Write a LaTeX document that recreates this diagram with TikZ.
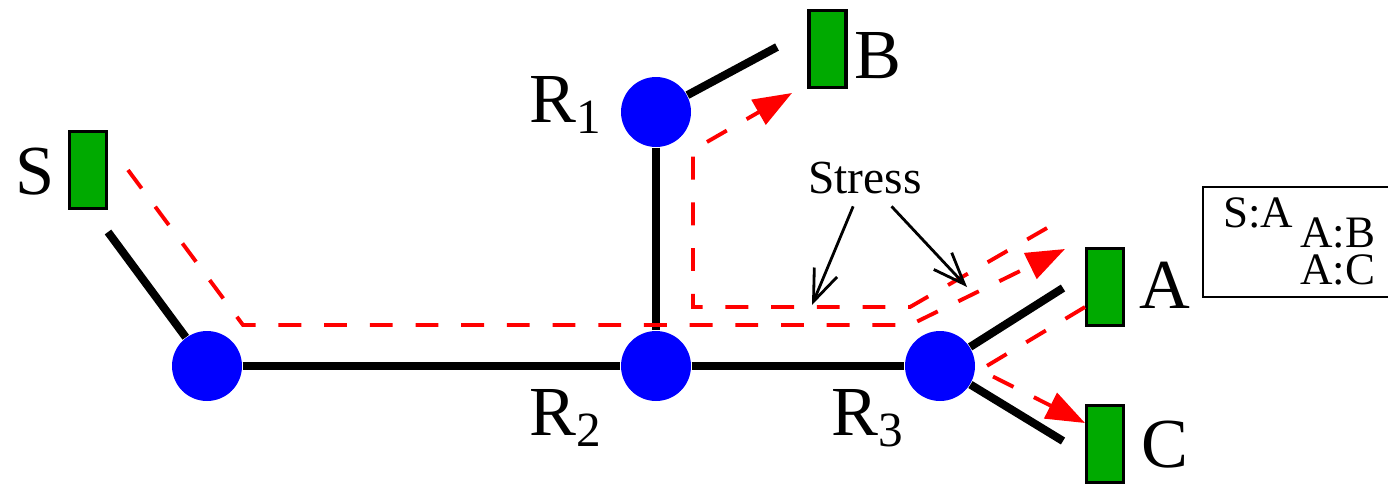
\documentclass[tikz,border=0pt]{standalone}
\usepackage{fontspec}
\setmainfont{Liberation Serif}
\usetikzlibrary{arrows.meta}
\definecolor{hostgreen}{RGB}{0,170,0}
\tikzset{
    router/.style={circle, fill=blue, minimum size=0.70cm, inner sep=0pt},
    host/.style={draw, fill=hostgreen, line width=1pt, minimum width=0.37cm, minimum height=0.77cm, inner sep=0pt},
    link/.style={line width=2.3pt},
    flow/.style={draw=red, line width=1.1pt, dash pattern=on 6.5pt off 6.5pt, -{Triangle[length=11pt,width=8pt]}},
    lbl/.style={font=\fontsize{20}{24}\selectfont, inner sep=0pt},
    note/.style={font=\fontsize{13.5}{16}\selectfont},
    key/.style={font=\fontsize{12.8}{14}\selectfont, inner sep=0pt},
    pointer/.style={-{Straight Barb[length=9pt,width=7pt]}, line width=0.8pt},
  }

\begin{document}
\begin{tikzpicture}
    \useasboundingbox (0,0) rectangle (13.88,4.84);
    % routers and hosts
    \node[router] (rl) at (2.07,1.18) {};
    \node[router] (r2) at (6.56,1.18) {};
    \node[router] (r3) at (9.40,1.18) {};
    \node[router] (r1) at (6.56,3.72) {};
    \node[host] (hs) at (0.88,3.14) {};
    \node[host] (hb) at (8.275,4.35) {};
    \node[host] (ha) at (11.05,1.97) {};
    \node[host] (hc) at (11.05,0.40) {};
    \node[lbl] (ls) at (0.35,3.12) {S};
    \node[lbl] (lb) at (8.78,4.28) {B};
    \node[lbl] (la) at (11.65,1.99) {A};
    \node[lbl] (lc) at (11.65,0.39) {C};
    \node[lbl] (lr1) at (5.66,3.79) {R\textsubscript{1}};
    \node[lbl] (lr2) at (5.66,0.66) {R\textsubscript{2}};
    \node[lbl] (lr3) at (8.68,0.66) {R\textsubscript{3}};
    % links
    \coordinate (es) at (1.08,2.52);
    \coordinate (eb) at (7.77,4.37);
    \coordinate (ea) at (10.63,1.96);
    \coordinate (ec) at (10.63,0.43);
    \draw[link] (rl) -- (es);
    \draw[link] (rl) -- (r2) -- (r3);
    \draw[link] (r1) -- (r2);
    \draw[link] (r1) -- (eb);
    \draw[link] (r3) -- (ea);
    \draw[link] (r3) -- (ec);
    % flows
    \coordinate (sa0) at (1.28,3.14);
    \coordinate (sa1) at (2.43,1.59);
    \coordinate (sa2) at (9.10,1.59);
    \coordinate (sa3) at (10.65,2.35);
    \coordinate (ab0) at (10.47,2.56);
    \coordinate (ab1) at (9.10,1.77);
    \coordinate (ab2) at (6.93,1.77);
    \coordinate (ab3) at (6.93,3.34);
    \coordinate (ab4) at (7.92,3.91);
    \coordinate (ac0) at (10.85,1.77);
    \coordinate (ac1) at (9.80,1.14);
    \coordinate (ac2) at (10.85,0.61);
    \draw[flow] (sa0) -- (sa1) -- (sa2) -- (sa3);
    \draw[flow] (ab0) -- (ab1) -- (ab2) -- (ab3) -- (ab4);
    \draw[flow] (ac0) -- (ac1) -- (ac2);
    % stress
    \node[note] (stress) at (8.65,3.06) {Stress};
    \coordinate (st1) at (8.12,1.79);
    \coordinate (st2) at (9.67,1.97);
    \draw[pointer] (stress) -- (st1);
    \draw[pointer] (stress) -- (st2);
    % legend (runs off the right edge)
    \draw[line width=0.6pt] (14.1,2.97) -| (12.03,1.87) -- (14.1,1.87);
    \node[key] (lsa) at (12.58,2.71) {S:A};
    \node[key] (lab) at (13.375,2.51) {A:B};
    \node[key] (lac) at (13.375,2.14) {A:C};
\end{tikzpicture}
\end{document}
